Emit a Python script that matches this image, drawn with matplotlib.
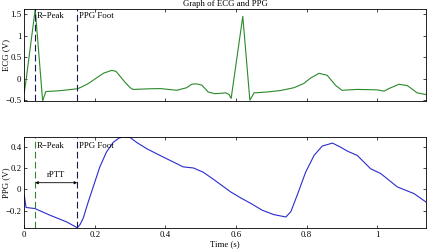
import numpy as np
import matplotlib
matplotlib.use('Agg')
import matplotlib.pyplot as plt
from matplotlib.ticker import FuncFormatter

# ── data ───────────────────────────────────────────────────────────────
ecg_t = [0.000, 0.004, 0.031, 0.052, 0.061, 0.100, 0.150, 0.158, 0.180,
         0.205, 0.225, 0.248, 0.260, 0.271, 0.285, 0.300, 0.308, 0.356,
         0.385, 0.432, 0.460, 0.474, 0.488, 0.503, 0.521, 0.540, 0.556,
         0.571, 0.580, 0.586, 0.619, 0.639, 0.651, 0.688, 0.726, 0.764,
         0.792, 0.811, 0.835, 0.858, 0.882, 0.900, 0.943, 1.000, 1.019,
         1.033, 1.061, 1.085, 1.113, 1.138]
ecg_v = [-0.31, -0.10, 1.62, -0.52, -0.30, -0.28, -0.235, -0.21, -0.12,
         0.02, 0.13, 0.195, 0.17, 0.06, -0.08, -0.21, -0.25, -0.235,
         -0.23, -0.27, -0.21, -0.13, -0.12, -0.15, -0.31, -0.35, -0.34,
         -0.33, -0.37, -0.46, 1.455, -0.50, -0.33, -0.31, -0.275, -0.21,
         -0.11, 0.015, 0.125, 0.08, -0.157, -0.27, -0.25, -0.26, -0.29,
         -0.23, -0.13, -0.16, -0.33, -0.37]

ppg_t = [0.000, 0.005, 0.030, 0.073, 0.120, 0.150, 0.158, 0.167, 0.181,
         0.200, 0.214, 0.233, 0.252, 0.268, 0.280, 0.300, 0.318, 0.347,
         0.375, 0.403, 0.432, 0.450, 0.479, 0.507, 0.540, 0.585, 0.613,
         0.646, 0.674, 0.707, 0.741, 0.755, 0.773, 0.797, 0.821, 0.844,
         0.873, 0.896, 0.915, 0.943, 0.981, 1.010, 1.057, 1.104, 1.138]
ppg_v = [-0.056, -0.17, -0.18, -0.243, -0.305, -0.36, -0.33, -0.27, -0.12,
         0.07, 0.21, 0.35, 0.44, 0.48, 0.49, 0.485, 0.44, 0.38,
         0.333, 0.287, 0.24, 0.21, 0.20, 0.16, 0.084, -0.025, -0.08,
         -0.14, -0.196, -0.237, -0.259, -0.21, -0.056, 0.16, 0.318, 0.405,
         0.433, 0.395, 0.358, 0.318, 0.193, 0.147, 0.022, -0.04, -0.119]

R_PEAK = 0.031
PPG_FOOT = 0.150

ecg_ticks = [-0.5, 0, 0.5, 1, 1.5]
ppg_ticks = [-0.2, 0, 0.2, 0.4]
time_ticks = [0, 0.2, 0.4, 0.6, 0.8, 1]

FS = 6.3
plt.rcParams['font.family'] = ['Liberation Serif', 'DejaVu Serif']
plt.rcParams['font.size'] = FS
plt.rcParams['axes.linewidth'] = 0.6


def fmt(v, _):
    s = f'{v:g}'
    return s.replace('-', '\u2212')


def style(ax):
    ax.tick_params(direction='in', top=True, right=True, length=2.5,
                   width=0.5, pad=2, labelsize=FS)
    ax.yaxis.set_major_formatter(FuncFormatter(fmt))
    ax.xaxis.set_major_formatter(FuncFormatter(fmt))
    ax.set_xlim(0, max(ecg_t))
    ax.set_xticks(time_ticks)
    ax.yaxis.set_label_coords(-0.036, 0.5)


fig = plt.figure(figsize=(4.29, 2.5), dpi=100)
ax1 = fig.add_axes([0.0566, 0.596, 0.9364, 0.367])
ax2 = fig.add_axes([0.0566, 0.089, 0.9364, 0.363])

dash = (0, (6, 3))

# ── ECG ───────────────────────────────────────────────────────────────
ax1.plot(ecg_t, ecg_v, color='#2a8a2a', linewidth=0.8)
ax1.axvline(R_PEAK, color='#1a1a4a', linestyle=dash, linewidth=0.8)
ax1.axvline(PPG_FOOT, color='#1a1a4a', linestyle=dash, linewidth=0.8)
ax1.set_ylim(min(ecg_v), max(ecg_v))
ax1.set_yticks(ecg_ticks)
style(ax1)
ax1.set_xticklabels([])
ax1.set_ylabel('ECG (V)')
ax1.text(R_PEAK + 0.004, 1.47, 'R\u2212Peak', va='center', ha='left')
ax1.text(PPG_FOOT + 0.004, 1.47, 'PPG Foot', va='center', ha='left')
ax1.set_title('Graph of ECG and PPG', fontsize=FS, pad=2)

# ── PPG ───────────────────────────────────────────────────────────────
ax2.plot(ppg_t, ppg_v, color='#2b2bd0', linewidth=0.8)
ax2.axvline(R_PEAK, color='#2a8a2a', linestyle=dash, linewidth=0.8)
ax2.axvline(PPG_FOOT, color='#1a1a4a', linestyle=dash, linewidth=0.8)
ax2.set_ylim(min(ppg_v), max(ppg_v))
ax2.set_yticks(ppg_ticks)
style(ax2)
ax2.set_ylabel('PPG (V)')
ax2.set_xlabel('Time (s)', labelpad=1)
ax2.text(R_PEAK + 0.004, 0.41, 'R\u2212Peak', va='center', ha='left')
ax2.text(PPG_FOOT + 0.004, 0.41, 'PPG Foot', va='center', ha='left')
ax2.annotate('', xy=(R_PEAK, 0.062), xytext=(PPG_FOOT, 0.062),
             arrowprops=dict(arrowstyle='<|-|>', color='black', lw=0.6,
                             mutation_scale=4, shrinkA=0, shrinkB=0))
ax2.text((R_PEAK + PPG_FOOT) / 2, 0.10, 'rPTT', ha='center', va='bottom')

fig.savefig('out.png', dpi=100)
